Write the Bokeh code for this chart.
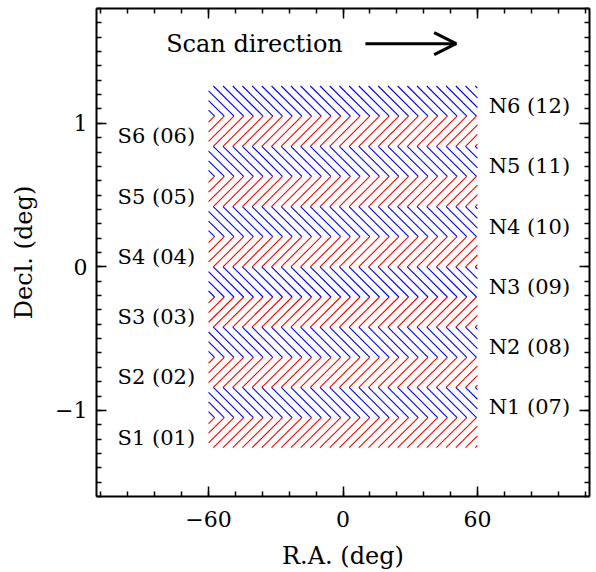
import numpy as np
from bokeh.plotting import figure
from bokeh.models import (ColumnDataSource, FixedTicker, LinearAxis, Arrow, OpenHead,
                          CustomJSTickFormatter, Label, Range1d)
from bokeh.core.properties import value
from bokeh.embed import file_html
from bokeh.resources import INLINE

# ---- data ----
ra_start = -60.0
ra_end = 60.0
stripe_height = 0.21
s_names = ["S1 (01)", "S2 (02)", "S3 (03)", "S4 (04)", "S5 (05)", "S6 (06)"]
s_bottom = [-1.26, -0.84, -0.42, 0.0, 0.42, 0.84]
n_names = ["N1 (07)", "N2 (08)", "N3 (09)", "N4 (10)", "N5 (11)", "N6 (12)"]
n_bottom = [-1.05, -0.63, -0.21, 0.21, 0.63, 1.05]
x_ticks = [-60, 0, 60]
y_ticks = [-1, 0, 1]

FONT = "DejaVu Serif"
W, H = 596, 572
BL, BR, BT, BB = 96, 7, 8, 73
XR = (-110, 110)
YR = (-1.6, 1.8)

p = figure(width=W, height=H, output_backend="svg", toolbar_location=None,
           x_range=Range1d(*XR), y_range=Range1d(*YR),
           min_border_left=BL, min_border_right=BR, min_border_top=BT, min_border_bottom=BB,
           x_axis_location=None, y_axis_location=None)
p.grid.visible = False
p.outline_line_color = None
p.background_fill_color = "white"
p.border_fill_color = "white"

# hatch drawn as 45-degree (in screen space) line segments inside each stripe
px_per_x = (W - BL - BR) / (XR[1] - XR[0])
px_per_y = (H - BT - BB) / (YR[1] - YR[0])
spacing = 9.7 / px_per_x                      # horizontal line spacing, in RA units
dx = stripe_height * px_per_y / px_per_x       # RA shift across one stripe at 45 deg


def hatch(bottoms, slope_sign):
    """slope_sign=+1: '/' lines, -1: '\\' lines. Vertices on the shared grid."""
    x0s, y0s, x1s, y1s = [], [], [], []
    grid = np.arange(ra_start - 3 * dx, ra_end + 3 * dx, spacing)
    for b in bottoms:
        t = b + stripe_height
        for g in grid:
            if slope_sign > 0:   # top at g, bottom at g - dx
                xb, xt = g - dx, g
            else:                # bottom at g, top at g - dx
                xb, xt = g, g - dx
            lo, hi = 0.0, 1.0
            d = xt - xb
            for edge, inside_is_greater in ((ra_start, True), (ra_end, False)):
                s = (edge - xb) / d
                if (d > 0) == inside_is_greater:
                    lo = max(lo, s)
                else:
                    hi = min(hi, s)
            if hi - lo <= 1e-9:
                continue
            x0s.append(xb + lo * d); y0s.append(b + lo * stripe_height)
            x1s.append(xb + hi * d); y1s.append(b + hi * stripe_height)
    return dict(x0=x0s, y0=y0s, x1=x1s, y1=y1s)


p.segment(x0="x0", y0="y0", x1="x1", y1="y1", source=ColumnDataSource(hatch(s_bottom, +1)),
          line_color="#ff0000", line_width=1.1)
p.segment(x0="x0", y0="y0", x1="x1", y1="y1", source=ColumnDataSource(hatch(n_bottom, -1)),
          line_color="#0000ff", line_width=1.1)

s_src = ColumnDataSource(dict(ymid=[b + stripe_height / 2 for b in s_bottom], name=s_names))
n_src = ColumnDataSource(dict(ymid=[b + stripe_height / 2 for b in n_bottom], name=n_names))

p.text(x=-66, y="ymid", text="name", source=s_src, text_align="right",
       text_baseline="middle", y_offset=5, text_font=value(FONT),
       text_font_size="21px", text_color="black")
p.text(x=65, y="ymid", text="name", source=n_src, text_align="left",
       text_baseline="middle", y_offset=5, text_font=value(FONT),
       text_font_size="21px", text_color="black")

p.add_layout(Label(x=-39.5, y=1.555, text="Scan direction", text_align="center",
                   text_baseline="middle", text_font=FONT, text_font_size="24px",
                   text_color="black"))
p.add_layout(Arrow(x_start=10, y_start=1.555, x_end=50.5, y_end=1.555,
                   line_width=3, line_color="black",
                   end=OpenHead(size=22, line_width=3, line_color="black")))

fmt = CustomJSTickFormatter(code="return tick < 0 ? '\u2212' + Math.abs(tick) : String(tick);")
blank = CustomJSTickFormatter(code="return '';")
x_minor = list(np.arange(-108, 109, 12))
y_minor = [round(v, 2) for v in np.arange(-1.6, 1.81, 0.1)]


def style(ax, labels=True):
    ax.axis_line_width = 2
    ax.axis_line_color = "black"
    ax.major_tick_in = 10
    ax.major_tick_out = 0
    ax.minor_tick_in = 5
    ax.minor_tick_out = 0
    ax.major_tick_line_width = 1.5
    ax.minor_tick_line_width = 1.5
    ax.major_tick_line_color = "black"
    ax.minor_tick_line_color = "black"
    ax.major_label_text_font = FONT
    ax.major_label_text_font_size = "22px" if labels else "1px"
    ax.major_label_text_color = "black"
    ax.axis_label_text_font = FONT
    ax.axis_label_text_font_size = "24px"
    ax.axis_label_text_font_style = "normal"
    ax.axis_label_text_color = "black"
    ax.formatter = fmt if labels else blank
    if not labels:
        ax.major_label_standoff = 0


xb = LinearAxis(ticker=FixedTicker(ticks=x_ticks, minor_ticks=x_minor), axis_label="R.A. (deg)")
style(xb)
xb.major_label_standoff = 14
xb.axis_label_standoff = 12
p.add_layout(xb, "below")

xt = LinearAxis(ticker=FixedTicker(ticks=x_ticks, minor_ticks=x_minor))
style(xt, labels=False)
p.add_layout(xt, "above")

yl = LinearAxis(ticker=FixedTicker(ticks=y_ticks, minor_ticks=y_minor), axis_label="Decl. (deg)")
style(yl)
yl.major_label_standoff = 9
yl.axis_label_standoff = 14
p.add_layout(yl, "left")

yr = LinearAxis(ticker=FixedTicker(ticks=y_ticks, minor_ticks=y_minor))
style(yr, labels=False)
p.add_layout(yr, "right")

open("out.html", "w").write(file_html(p, INLINE))
